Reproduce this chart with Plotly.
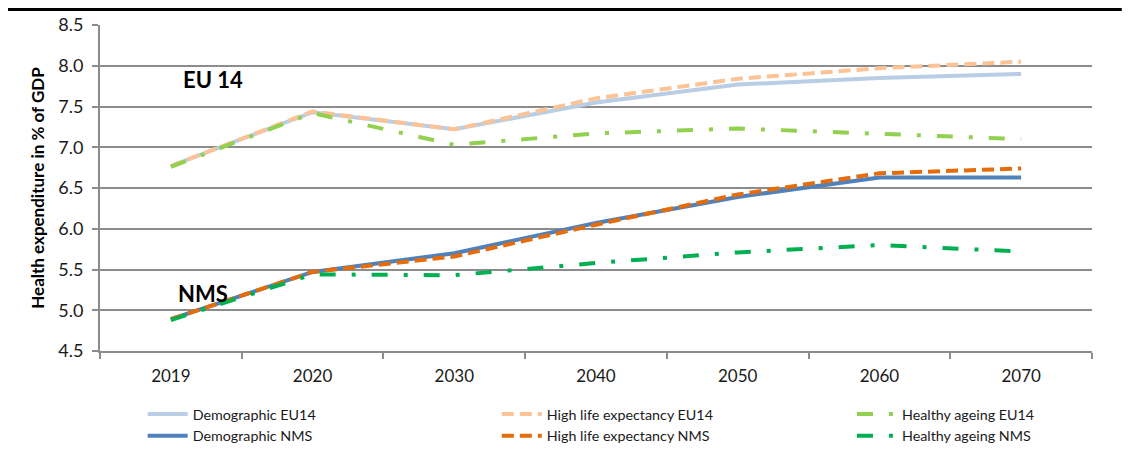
import plotly.graph_objects as go

years = ["2019", "2020", "2030", "2040", "2050", "2060", "2070"]

demo_eu14 = [6.77, 7.43, 7.22, 7.55, 7.77, 7.85, 7.90]
high_eu14 = [6.77, 7.44, 7.22, 7.60, 7.84, 7.97, 8.05]
healthy_eu14 = [6.76, 7.42, 7.03, 7.17, 7.23, 7.17, 7.10]

demo_nms = [4.89, 5.47, 5.70, 6.07, 6.39, 6.63, 6.63]
high_nms = [4.89, 5.47, 5.66, 6.05, 6.42, 6.68, 6.74]
healthy_nms = [4.88, 5.44, 5.43, 5.58, 5.71, 5.80, 5.72]

y_ticks = [4.5, 5.0, 5.5, 6.0, 6.5, 7.0, 7.5, 8.0, 8.5]

FONT = "Lato"
GRID = "#8c8c8c"

series = [
    ("Demographic EU14", demo_eu14, "#b9cde5", "solid", "legend"),
    ("High life expectancy EU14", high_eu14, "#fbc396", "12px,6px", "legend2"),
    ("Healthy ageing EU14", healthy_eu14, "#92d050", "16px,16px,4px,16px", "legend3"),
    ("Demographic NMS", demo_nms, "#4f81bd", "solid", "legend"),
    ("High life expectancy NMS", high_nms, "#e46c0a", "12px,6px", "legend2"),
    ("Healthy ageing NMS", healthy_nms, "#00b050", "16px,16px,4px,16px", "legend3"),
]

fig = go.Figure()
for name, vals, color, dash, leg in series:
    fig.add_trace(go.Scatter(
        x=years, y=vals, mode="lines", name=name,
        line=dict(color=color, width=4, dash=dash),
        legend=leg,
    ))

legend_common = dict(
    orientation="v", yanchor="top", xanchor="left",
    font=dict(family=FONT, size=14.3, color="#1a1a1a"),
    bgcolor="rgba(0,0,0,0)", tracegroupgap=0, itemwidth=40,
)

fig.update_layout(
    width=1131, height=455,
    margin=dict(l=92, r=47, t=17, b=112, autoexpand=False),
    paper_bgcolor="white", plot_bgcolor="white",
    font=dict(family=FONT, size=17, color="#1a1a1a"),
    showlegend=True,
    legend=dict(x=0.043, y=-0.145, **legend_common),
    legend2=dict(x=0.400, y=-0.145, **legend_common),
    legend3=dict(x=0.758, y=-0.145, **legend_common),
    xaxis=dict(
        type="category", range=[-0.5, 6.5], automargin=False,
        tickson="boundaries", ticks="outside", ticklen=6, tickcolor=GRID, tickwidth=1.5,
        ticklabelstandoff=9,
        showline=True, linecolor=GRID, linewidth=2,
        showgrid=False, tickfont=dict(family=FONT, size=17, color="#1a1a1a"),
        fixedrange=True,
    ),
    yaxis=dict(
        range=[4.5, 8.5], tickvals=y_ticks, tickformat=".1f", automargin=False,
        ticks="outside", ticklen=6, tickcolor=GRID, tickwidth=1.5,
        ticklabelstandoff=5,
        showline=True, linecolor=GRID, linewidth=2,
        showgrid=True, gridcolor=GRID, gridwidth=2,
        zeroline=False,
        tickfont=dict(family=FONT, size=18, color="#1a1a1a"),
        title=dict(text="<b>Health expenditure in % of GDP</b>",
                   font=dict(family=FONT, size=17, color="#000000"), standoff=9),
        fixedrange=True,
    ),
)

fig.add_annotation(text="<b>EU 14</b>", xref="paper", yref="y", x=0.082, y=7.83,
                   xanchor="left", yanchor="middle", showarrow=False,
                   font=dict(family=FONT, size=22, color="#000000"))
fig.add_annotation(text="<b>NMS</b>", xref="paper", yref="y", x=0.077, y=5.2,
                   xanchor="left", yanchor="middle", showarrow=False,
                   font=dict(family=FONT, size=22, color="#000000"))

# top rule line of the page
fig.add_shape(type="line", xref="paper", yref="paper",
              x0=-0.093, x1=1.03, y0=1.0475, y1=1.0475,
              line=dict(color="black", width=3))

fig.write_html("out.html")
